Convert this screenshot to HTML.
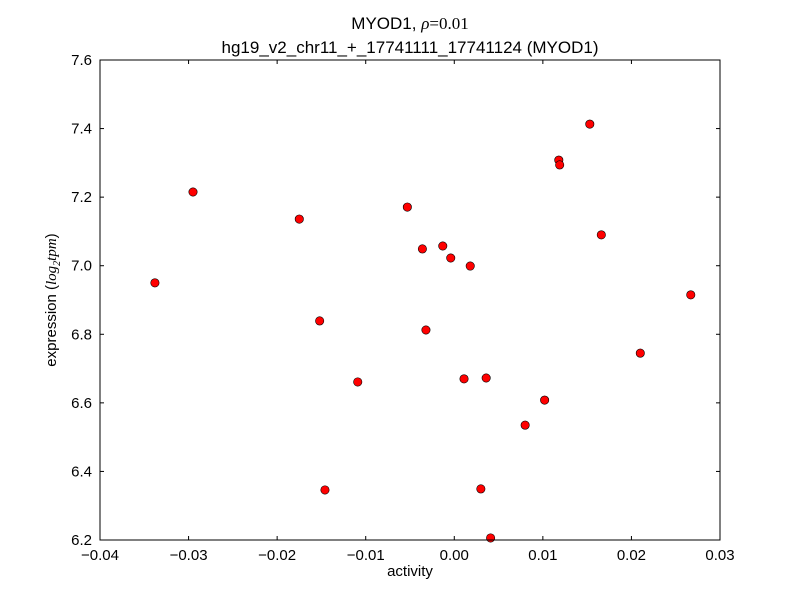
<!DOCTYPE html>
<html><head><meta charset="utf-8"><style>
body{margin:0;background:#fff;}
svg{font-family:"Liberation Sans","DejaVu Sans",sans-serif;}
</style></head><body>
<svg id="chart" width="800" height="600" xmlns="http://www.w3.org/2000/svg">
<rect width="800" height="600" fill="#fff"/>
<text x="410" y="29" text-anchor="middle" font-size="17">MYOD1, <tspan font-family="Liberation Serif,serif" font-style="italic">ρ</tspan><tspan font-family="Liberation Serif,serif">=0.01</tspan></text>
<text x="410" y="53" text-anchor="middle" font-size="17">hg19_v2_chr11_+_17741111_17741124 (MYOD1)</text>
<text x="410" y="576" text-anchor="middle" font-size="15">activity</text>
<text transform="translate(56,300) rotate(-90)" text-anchor="middle" font-size="15">expression (<tspan font-family="Liberation Serif,serif" font-style="italic">log<tspan font-size="10" dy="4">2</tspan><tspan dy="-4">tpm</tspan></tspan>)</text>
<g id="ticks"></g>
<g id="points"></g>
<rect x="100" y="60" width="620" height="480" fill="none" stroke="#000" stroke-width="1"/>
</svg>
<script>
const xVals=[-0.0338,-0.0295,-0.0175,-0.0152,-0.0146,-0.0109,-0.0053,-0.0036,-0.0032,-0.0013,-0.0004,0.0011,0.0018,0.0030,0.0036,0.0041,0.0080,0.0102,0.0118,0.0119,0.0153,0.0166,0.0210,0.0267];
const yVals=[6.950,7.215,7.136,6.839,6.346,6.661,7.171,7.049,6.8125,7.0575,7.0225,6.670,6.999,6.349,6.6725,6.206,6.535,6.608,7.308,7.294,7.413,7.090,6.745,6.915];
const xTicks=[-0.04,-0.03,-0.02,-0.01,0.00,0.01,0.02,0.03];
const xTickLabels=["\u22120.04","\u22120.03","\u22120.02","\u22120.01","0.00","0.01","0.02","0.03"];
const yTicks=[6.2,6.4,6.6,6.8,7.0,7.2,7.4,7.6];
const yTickLabels=["6.2","6.4","6.6","6.8","7.0","7.2","7.4","7.6"];
const L=100,R=720,T=60,B=540;
const sx=v=>L+(v-(-0.04))/0.07*(R-L);
const sy=v=>B-(v-6.2)/1.4*(B-T);
const NS="http://www.w3.org/2000/svg";
const tg=document.getElementById('ticks'),pg=document.getElementById('points');
function mk(tag,attrs,parent){const e=document.createElementNS(NS,tag);for(const k in attrs)e.setAttribute(k,attrs[k]);parent.appendChild(e);return e;}
xTicks.forEach((t,i)=>{const x=sx(t);
 const a=mk('line',{x1:x,x2:x,y1:B,y2:B-4,stroke:'#000'},tg);
 
 
 mk('line',{x1:x,x2:x,y1:T,y2:T+4,stroke:'#000'},tg);
 const l=mk('text',{x:x,y:B+20,'text-anchor':'middle','font-size':15},tg);l.textContent=xTickLabels[i];
 
 
});
yTicks.forEach((t,i)=>{const y=sy(t);
 const a=mk('line',{x1:L,x2:L+4,y1:y,y2:y,stroke:'#000'},tg);
 
 
 mk('line',{x1:R,x2:R-4,y1:y,y2:y,stroke:'#000'},tg);
 const l=mk('text',{x:L-8,y:y+5,'text-anchor':'end','font-size':15},tg);l.textContent=yTickLabels[i];
 
 
});
xVals.forEach((v,i)=>{
 const c=mk('circle',{cx:sx(v),cy:sy(yVals[i]),r:4.2,fill:'#ff0000',stroke:'#000','stroke-width':0.6},pg);
 
 
});
</script>
</body></html>
